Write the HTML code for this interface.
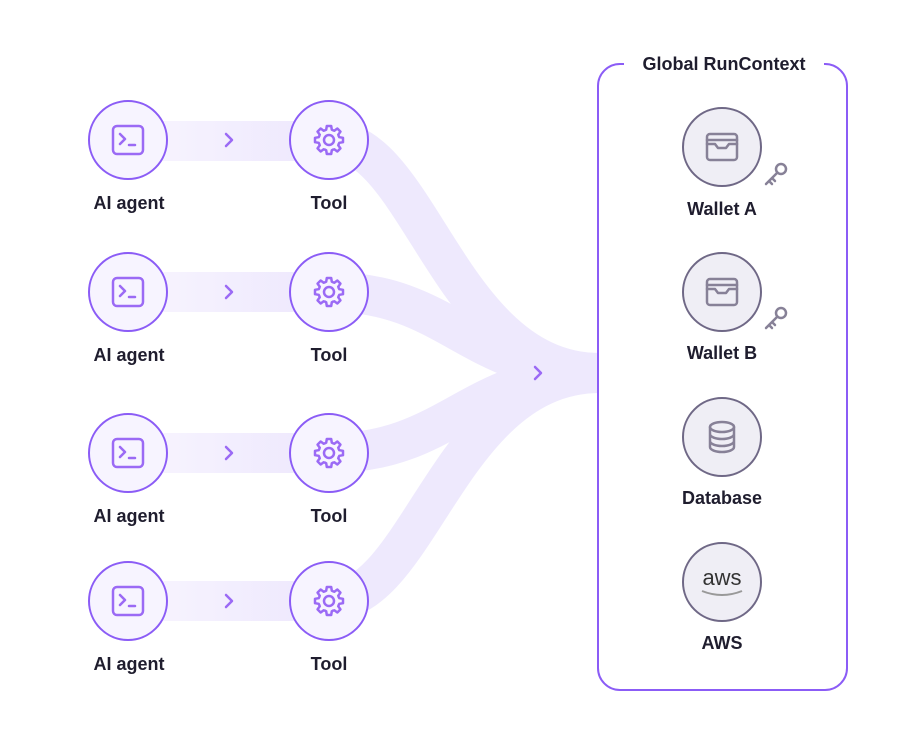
<!DOCTYPE html>
<html><head><style>
body{margin:0;background:#fff;width:906px;height:743px;overflow:hidden;font-family:"Liberation Sans",sans-serif}
</style></head><body>
<svg width="906" height="743" viewBox="0 0 906 743" xmlns="http://www.w3.org/2000/svg">
<defs>
<linearGradient id="g" x1="0" x2="1" y1="0" y2="0">
<stop offset="0" stop-color="#f7f4fe"/><stop offset="1" stop-color="#ede7fd"/></linearGradient>
<g id="t"><polygon points="-3,-8.6 -2.2,-14 2.2,-14 3,-8.6" fill="#f7f4ff" stroke="none"/><polyline points="-2.8,-10.3 -2.2,-14 2.2,-14 2.8,-10.3" fill="none"/></g>
<g id="gr"><circle r="10.5" fill="none"/>
<use href="#t"/><use href="#t" transform="rotate(45)"/><use href="#t" transform="rotate(90)"/><use href="#t" transform="rotate(135)"/>
<use href="#t" transform="rotate(180)"/><use href="#t" transform="rotate(225)"/><use href="#t" transform="rotate(270)"/><use href="#t" transform="rotate(315)"/>
<circle r="5" fill="none"/></g>
</defs>
<g fill="url(#g)">
<rect x="150" y="121" width="180" height="40"/>
<rect x="150" y="272" width="180" height="40"/>
<rect x="150" y="433" width="180" height="40"/>
<rect x="150" y="581" width="180" height="40"/>
</g>
<g fill="none" stroke="#eee9fd" stroke-width="40">
<path d="M330 140 C420 140 450 373 600 373"/>
<path d="M330 292 C450 292 470 373 600 373"/>
<path d="M330 453 C450 453 470 373 600 373"/>
<path d="M330 601 C420 601 450 373 600 373"/>
</g>
<g fill="none" stroke="#9b6af5" stroke-width="2.5" stroke-linecap="round" stroke-linejoin="round">
<path d="M226 134 l6 6 -6 6"/><path d="M226 286 l6 6 -6 6"/><path d="M226 447 l6 6 -6 6"/><path d="M226 595 l6 6 -6 6"/>
<path d="M535 367 l6 6 -6 6"/>
</g>
<g stroke="#8b5cf6" stroke-width="2" fill="#f7f4ff">
<circle cx="128" cy="140" r="39"/><circle cx="329" cy="140" r="39"/>
<circle cx="128" cy="292" r="39"/><circle cx="329" cy="292" r="39"/>
<circle cx="128" cy="453" r="39"/><circle cx="329" cy="453" r="39"/>
<circle cx="128" cy="601" r="39"/><circle cx="329" cy="601" r="39"/>
</g>
<g fill="none" stroke="#9b6af5" stroke-width="2.5" stroke-linecap="round" stroke-linejoin="round">
<g transform="translate(128,140)"><rect x="-15" y="-14" width="30" height="28" rx="4"/><path d="M-8 -6 l5 5 -5 5 M1 5 h6"/></g>
<g transform="translate(128,292)"><rect x="-15" y="-14" width="30" height="28" rx="4"/><path d="M-8 -6 l5 5 -5 5 M1 5 h6"/></g>
<g transform="translate(128,453)"><rect x="-15" y="-14" width="30" height="28" rx="4"/><path d="M-8 -6 l5 5 -5 5 M1 5 h6"/></g>
<g transform="translate(128,601)"><rect x="-15" y="-14" width="30" height="28" rx="4"/><path d="M-8 -6 l5 5 -5 5 M1 5 h6"/></g>
<use href="#gr" transform="translate(329,140)"/><use href="#gr" transform="translate(329,292)"/><use href="#gr" transform="translate(329,453)"/><use href="#gr" transform="translate(329,601)"/>
</g>
<g font-size="18" font-weight="bold" fill="#1f1d2e" text-anchor="middle">
<text x="129" y="209">AI agent</text><text x="329" y="209">Tool</text>
<text x="129" y="361">AI agent</text><text x="329" y="361">Tool</text>
<text x="129" y="522">AI agent</text><text x="329" y="522">Tool</text>
<text x="129" y="670">AI agent</text><text x="329" y="670">Tool</text>
</g>
<rect x="598" y="64" width="249" height="626" rx="22" fill="#fff" stroke="#8b5cf6" stroke-width="2"/>
<rect x="624" y="54" width="200" height="20" fill="#fff"/>
<text x="724" y="70" font-size="18" font-weight="bold" fill="#1f1d2e" text-anchor="middle">Global RunContext</text>
<g stroke="#6f6886" stroke-width="2" fill="#efeef5">
<circle cx="722" cy="147" r="39"/><circle cx="722" cy="292" r="39"/><circle cx="722" cy="437" r="39"/><circle cx="722" cy="582" r="39"/>
</g>
<g fill="none" stroke="#878197" stroke-width="2.5" stroke-linecap="round" stroke-linejoin="round">
<g transform="translate(722,147)"><rect x="-15" y="-13" width="30" height="26" rx="3"/><path d="M-15 -7 h30 M-15 -3 h8 l3 4 h8 l3 -4 h8"/></g>
<g transform="translate(722,292)"><rect x="-15" y="-13" width="30" height="26" rx="3"/><path d="M-15 -7 h30 M-15 -3 h8 l3 4 h8 l3 -4 h8"/></g>
<g transform="translate(722,437)"><ellipse cx="0" cy="-10" rx="12" ry="5"/><path d="M-12 -10 v20 a12 5 0 0 0 24 0 v-20 M-12 -3 a12 5 0 0 0 24 0 M-12 4 a12 5 0 0 0 24 0"/></g>
<g transform="translate(776,174)"><circle cx="5" cy="-5" r="5"/><path d="M1 -1 l-11 11 M-7 7 l3 3 M-4 4 l3 3"/></g>
<g transform="translate(776,318)"><circle cx="5" cy="-5" r="5"/><path d="M1 -1 l-11 11 M-7 7 l3 3 M-4 4 l3 3"/></g>
</g>
<text x="722" y="585" font-size="22" fill="#333" text-anchor="middle">aws</text>
<path d="M702 591 q20 8 40 0" fill="none" stroke="#999" stroke-width="2"/>
<g font-size="18" font-weight="bold" fill="#1f1d2e" text-anchor="middle">
<text x="722" y="215">Wallet A</text><text x="722" y="359">Wallet B</text><text x="722" y="504">Database</text><text x="722" y="649">AWS</text>
</g>
</svg>
</body></html>
